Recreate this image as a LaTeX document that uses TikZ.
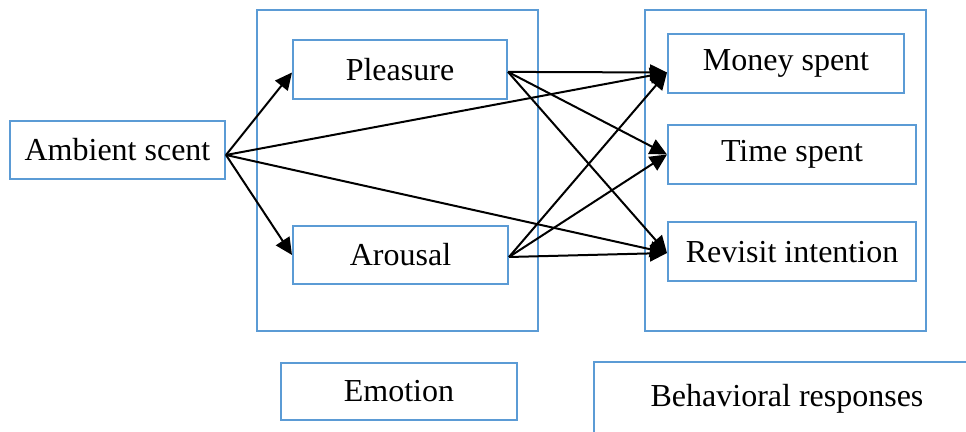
\documentclass[tikz,border=0pt]{standalone}
\usepackage{fontspec}
\setmainfont{Liberation Serif}
\usetikzlibrary{arrows.meta, positioning}
\definecolor{boxblue}{RGB}{91,155,213}
\tikzset{
  box/.style={draw=boxblue, line width=1pt, inner sep=0pt, font=\fontsize{16}{19}\selectfont},
  grp/.style={draw=boxblue, line width=1pt, inner sep=0pt},
  arr/.style={-{Triangle[length=8.5pt, width=8pt]}, line width=1pt}
}

\begin{document}
\begin{tikzpicture}[x=0.5pt, y=-0.5pt]
		\clip (0,0) rectangle (966,432);
		\useasboundingbox (0,0) rectangle (966,432);
		% groups
		\node[grp, minimum width=140.5pt, minimum height=160.5pt] (emo) at (397.5,170.5) {};
		\node[grp, minimum width=140.5pt, minimum height=160.5pt] (beh) at (785.5,170.5) {};
		% factors
		\node[box, minimum width=107.5pt, minimum height=29pt] (amb) at (117.5,150) {Ambient scent};
		\node[box, minimum width=107pt, minimum height=29.5pt] (pleas) at (400,69.5) {Pleasure};
		\node[box, minimum width=107.5pt, minimum height=29pt] (arous) at (400.5,255) {Arousal};
		\node[box, minimum width=118pt, minimum height=29.5pt] (money) at (786,63.5) {Money spent};
		\node[box, minimum width=124pt, minimum height=29.5pt] (time) at (792,154.5) {Time spent};
		\node[box, minimum width=124pt, minimum height=29.5pt] (revisit) at (792,252) {Revisit intention};
		% labels
		\node[box, minimum width=118pt, minimum height=28.5pt] (emolab) at (399,391.5) {Emotion};
		\node[box, minimum width=193pt, minimum height=37pt] (behlab) at (787,399) {Behavioral responses};
		% paths
		\draw[arr] ([yshift=-2.5pt]amb.east) -- ([yshift=-1.5pt]pleas.west);
		\draw[arr] ([yshift=-2.5pt]amb.east) -- (arous.west);
		\draw[arr] ([yshift=-2.5pt]amb.east) -- ([yshift=-4.5pt]money.west);
		\draw[arr] ([yshift=-2.5pt]amb.east) -- ([yshift=-0.5pt]revisit.west);
		\foreach \src/\dy in {pleas/-1.2pt, arous/-1pt} {
			\draw[arr] ([yshift=\dy]\src.east) -- ([yshift=-4.5pt]money.west);
			\draw[arr] ([yshift=\dy]\src.east) -- (time.west);
			\draw[arr] ([yshift=\dy]\src.east) -- ([yshift=-0.5pt]revisit.west);
		}
	\end{tikzpicture}
\end{document}
